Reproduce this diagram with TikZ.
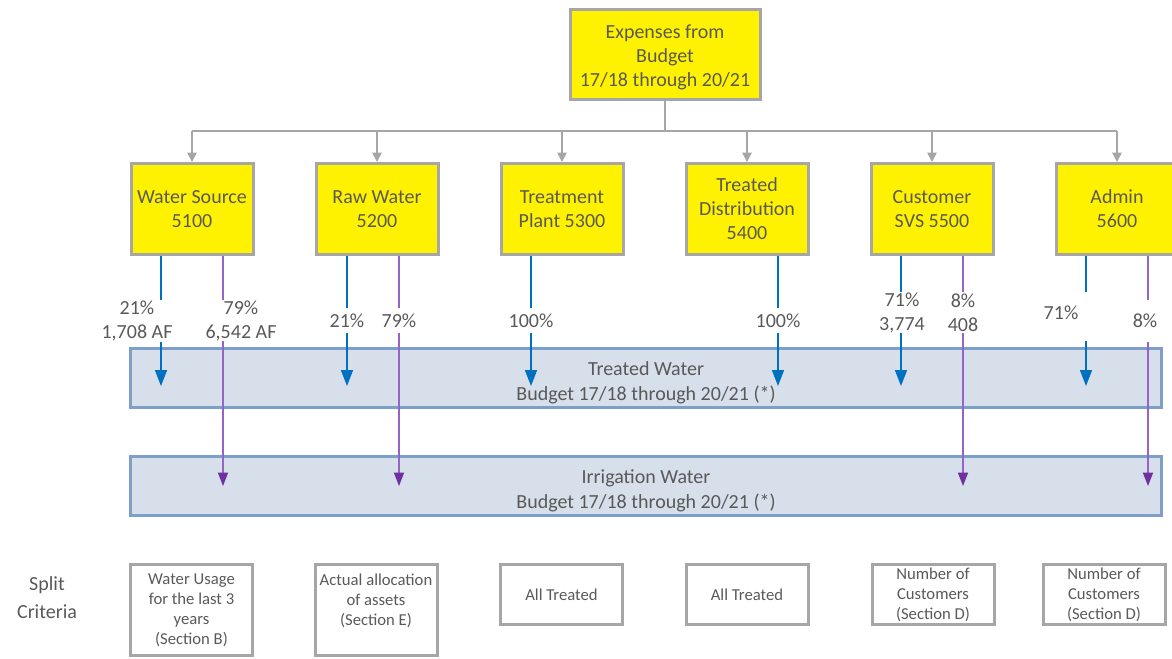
\documentclass[tikz,border=0pt]{standalone}
\usepackage{fontspec}
\setmainfont{Carlito}
\usepackage{xcolor}
\usepackage{tikz}
\definecolor{textgray}{RGB}{89, 89, 89}
\definecolor{boxgray}{RGB}{166, 166, 166}
\definecolor{flowblue}{RGB}{0, 112, 192}
\definecolor{flowpurple}{RGB}{112, 48, 160}
\definecolor{linepurple}{RGB}{150, 100, 200}
\definecolor{panelfill}{RGB}{214, 223, 234}
\definecolor{panelline}{RGB}{127, 159, 203}
\usetikzlibrary{arrows.meta, positioning}

\tikzset{
    costbox/.style={draw=boxgray, line width=2.25pt, fill=yellow, minimum width=91.5pt,
        minimum height=68.25pt, align=center, text=textgray, inner sep=1pt,
        font=\fontsize{15}{18}\selectfont},
    critbox/.style={draw=boxgray, line width=2.25pt, minimum width=91.5pt, align=center,
        text=textgray, inner sep=1pt, font=\fontsize{12.5}{15}\selectfont},
    budgetpanel/.style={draw=panelline, line width=2.25pt, fill=panelfill, minimum width=773.25pt,
        minimum height=44.25pt, align=center, text=textgray, inner ysep=0pt,
        font=\fontsize{15}{18.75}\selectfont},
    pct/.style={text=textgray, align=center, inner sep=0pt, font=\fontsize{15}{18}\selectfont},
    busline/.style={draw=boxgray, line width=1.1pt},
    feed/.style={busline, -{Triangle[length=7pt, width=7pt]}},
    blueflow/.style={draw=flowblue, line width=1.1pt},
    purpleflow/.style={draw=linepurple, line width=1.1pt}
}

\begin{document}
\begin{tikzpicture}[x=0.75pt, y=-0.75pt]
    \useasboundingbox (0,0) rectangle (1172,658);
    \clip (0,0) rectangle (1172,658);

    % top of the tree
    \node[costbox, minimum width=142.5pt, minimum height=67.5pt] (expenses) at (665,54.5)
        {\rule{0pt}{14.3pt}Expenses from\\Budget\\17/18 through 20/21};

    \node[costbox] (ws) at (192,209) {Water Source\\5100};
    \node[costbox] (rw) at (377,209) {Raw Water\\5200};
    \node[costbox] (tp) at (562,209) {Treatment\\Plant 5300};
    \node[costbox] (td) at (747,209) {Treated\\Distribution\\5400};
    \node[costbox] (cs) at (932,209) {Customer\\SVS 5500};
    \node[costbox] (ad) at (1117,209) {Admin\\5600};

    \coordinate (busL) at (192,131);
    \coordinate (busR) at (1117,131);
    \draw[busline] (expenses.south) -- (expenses.south |- busL);
    \draw[busline] (busL) -- (busR);
    \foreach \n in {ws,rw,tp,td,cs,ad}
        \draw[feed] (\n.north |- busL) -- (\n.north);

    % the two budgets
    \node[budgetpanel] (treated) at (646,378) {\rule{0pt}{17.3pt}Treated Water\\Budget 17/18 through 20/21 (*)};
    \node[budgetpanel] (irrigation) at (646,486) {\rule{0pt}{17.3pt}Irrigation Water\\Budget 17/18 through 20/21 (*)};

    % splits
    \foreach \n/\x/\ga/\gb in {ws/161/300/342, rw/347/308/333, tp/531/308/333,
                               td/778/308/333, cs/901/292/333, ad/1086/292/341} {
        \draw[blueflow] (\n.south -| \x,0) -- (\x,\ga);
        \draw[blueflow, -{Triangle[length=12pt, width=9pt]}] (\x,\gb) -- (\x,386);
    }
    \foreach \n/\x/\ga/\gb in {ws/223/300/341, rw/399/308/333, cs/963/292/333, ad/1148/300/342} {
        \draw[purpleflow] (\n.south -| \x,0) -- (\x,\ga);
        \draw[purpleflow, -{Triangle[length=10pt, width=7.5pt, color=flowpurple]}] (\x,\gb) -- (\x,486);
    }

    \node[pct] (wsT) at (137,321) {21\%\\1,708 AF};
    \node[pct] (wsI) at (241,321) {79\%\\6,542 AF};
    \node[pct] (rwT) at (347,321) {21\%};
    \node[pct] (rwI) at (399,321) {79\%};
    \node[pct] (tpT) at (531,321) {100\%};
    \node[pct] (tdT) at (778,321) {100\%};
    \node[pct] (csT) at (902,313) {71\%\\3,774};
    \node[pct] (csI) at (963,313) {8\%\\408};
    \node[pct] (adT) at (1061,313) {71\%};
    \node[pct] (adI) at (1145,321) {8\%};

    % split criteria
    \node[text=textgray, align=center, font=\fontsize{15}{21}\selectfont] (split) at (47,598) {Split\\Criteria};
    \node[critbox, minimum height=68.25pt] (wsC) at (191.5,610) {Water Usage\\for the last 3\\years\\(Section B)};
    \node[critbox, minimum height=68.25pt] (rwC) at (376,610) {Actual allocation\\of assets\\(Section E)\\\mbox{}};
    \node[critbox, minimum height=45pt] (tpC) at (561.5,594.5) {All Treated};
    \node[critbox, minimum height=45pt] (tdC) at (747,594.5) {All Treated};
    \node[critbox, minimum height=45pt] (csC) at (933,594.5) {Number of\\Customers\\(Section D)};
    \node[critbox, minimum height=45pt] (adC) at (1104,594.5) {Number of\\Customers\\(Section D)};
\end{tikzpicture}
\end{document}
